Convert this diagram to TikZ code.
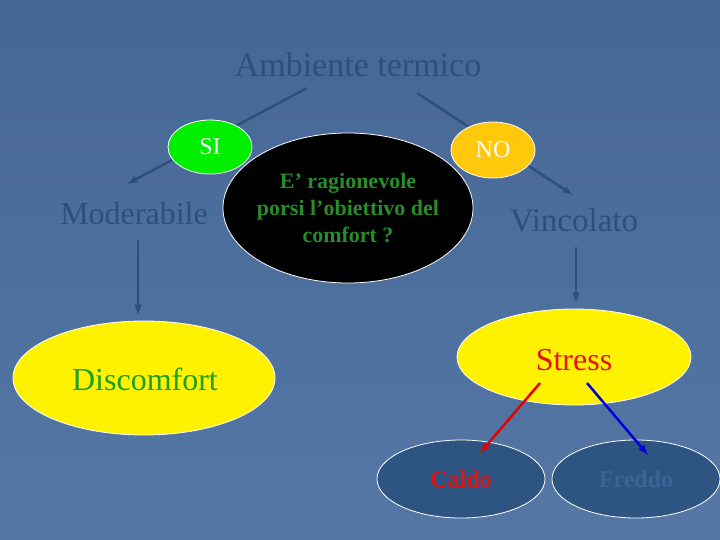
\documentclass[tikz,border=0pt]{standalone}
\usepackage{fontspec}
\setmainfont{Liberation Serif}
\usetikzlibrary{shapes.geometric}
\definecolor{bgtop}{RGB}{70,103,148}
\definecolor{bgbottom}{RGB}{84,119,166}
\definecolor{inkblue}{RGB}{44,80,126}
\definecolor{sigreen}{RGB}{0,238,0}
\definecolor{nogold}{RGB}{255,200,10}
\definecolor{askgreen}{RGB}{40,140,40}
\definecolor{discgreen}{RGB}{30,160,30}
\definecolor{hotred}{RGB}{225,20,20}
\definecolor{cellblue}{RGB}{46,84,130}
\definecolor{coldblue}{RGB}{62,100,150}
\begin{document}
\begin{tikzpicture}[x=1pt,y=-1pt,
  every node/.style = {align=center},
  bubble/.style = {ellipse, draw=white, line width=0.8pt, inner sep=0pt},
  branch/.style = {draw=inkblue, line width=2.5pt},
  title/.style = {text=inkblue, anchor=base}]
  \shade[top color=bgtop, bottom color=bgbottom] (0,0) rectangle (720,540);
  \useasboundingbox (0,0) rectangle (720,540);
  % top of the tree
  \node[title, font=\fontsize{34}{40}\selectfont] (amb) at (358,77) {Ambiente termico};
  \coordinate (amb-l) at (307,88);
  \coordinate (amb-r) at (417,93);
  \coordinate (mod-top) at (127,184);
  \coordinate (vin-top) at (573,195);
  \path [branch, -latex] (amb-l) -- (mod-top);
  \path [branch, -latex] (amb-r) -- (vin-top);
  \node[bubble, fill=sigreen, minimum width=84pt, minimum height=54pt] (si) at (210,147) {};
  \node[text=white, anchor=base, font=\fontsize{24}{28}\selectfont] at (si |- 0,155) {SI};
  \node[bubble, fill=nogold, minimum width=84pt, minimum height=56pt] (no) at (493,150) {};
  \node[text=white, anchor=base, font=\fontsize{24}{28}\selectfont] at (no |- 0,158) {NO};
  \node[bubble, fill=black, minimum width=250pt, minimum height=150pt,
    label={[text=askgreen, font=\fontsize{22}{27}\selectfont\bfseries,
      align=center]center:E’ ragionevole\\porsi l’obiettivo del\\comfort ?}]
    (ask) at (348,208) {};
  \node[title, font=\fontsize{32}{38}\selectfont] (mod) at (134,225) {Moderabile};
  \node[title, font=\fontsize{33}{38}\selectfont] (vin) at (574,231) {Vincolato};
  % outcomes
  \node[bubble, fill=yellow, minimum width=262pt, minimum height=114pt] (disc) at (144,378) {};
  \node[text=discgreen, anchor=base, font=\fontsize{32}{38}\selectfont] at (145,390) {Discomfort};
  \node[bubble, fill=yellow, minimum width=234pt, minimum height=96pt] (stress) at (574,357) {};
  \node[text=hotred, anchor=base, font=\fontsize{32}{38}\selectfont] at (574,370) {Stress};
  \coordinate (mod-low) at (138,240);
  \coordinate (disc-top) at (138,315);
  \coordinate (vin-low) at (576,247);
  \coordinate (stress-top) at (576,303);
  \path [branch, -latex] (mod-low) -- (disc-top);
  \path [branch, -latex] (vin-low) -- (stress-top);
  \node[bubble, fill=cellblue, minimum width=168pt, minimum height=78pt] (caldo) at (461,479) {};
  \node[text=hotred, anchor=base, font=\fontsize{24}{28}\selectfont\bfseries] at (461,487) {Caldo};
  \node[bubble, fill=cellblue, minimum width=168pt, minimum height=78pt] (freddo) at (636,479) {};
  \node[text=coldblue, anchor=base, font=\fontsize{24}{28}\selectfont\bfseries] at (636,487) {Freddo};
  \coordinate (hot-from) at (540,383);
  \coordinate (hot-to) at (480,453);
  \coordinate (cold-from) at (587,383);
  \coordinate (cold-to) at (648,455);
  \path [draw=red!90!black, line width=2.5pt, -latex] (hot-from) -- (hot-to);
  \path [draw=blue!85!black, line width=2.5pt, -latex] (cold-from) -- (cold-to);
\end{tikzpicture}
\end{document}
